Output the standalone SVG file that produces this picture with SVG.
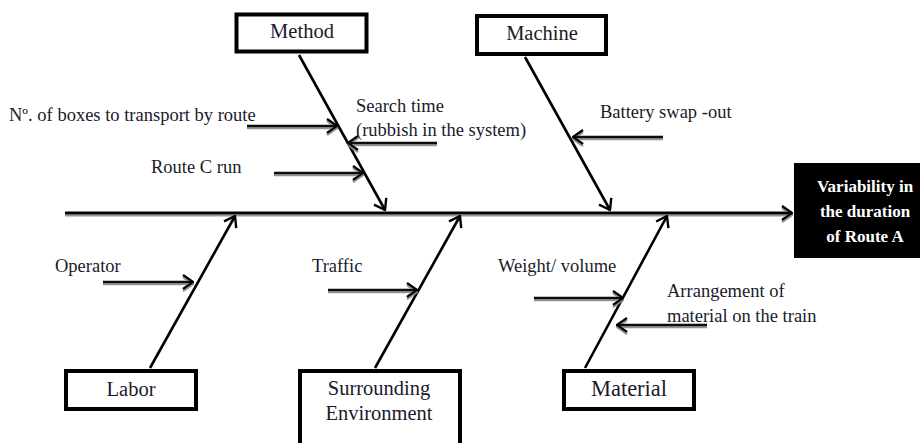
<svg xmlns="http://www.w3.org/2000/svg" width="921" height="443" viewBox="0 0 921 443">
<style>
.bg{fill:#fff}
.box{fill:#fff;stroke:#000;stroke-width:4}
.lbl{font-family:"Liberation Serif","Times New Roman",serif;font-size:20.5px;fill:#1a1a2a;text-anchor:middle}
.cause{font-family:"Liberation Serif","Times New Roman",serif;font-size:18.5px;fill:#1a1a2a}
.eff{font-family:"Liberation Serif","Times New Roman",serif;font-size:17px;font-weight:bold;fill:#fff;text-anchor:middle}
.bone{stroke:#000;stroke-width:2.6;fill:none;marker-end:url(#ah)}
.sub{stroke:#111;stroke-width:2.6;fill:none;marker-end:url(#ah);filter:url(#sh)}
.spine{stroke:#000;stroke-width:3;fill:none;marker-end:url(#ah);filter:url(#sh)}
</style>
<defs>
<marker id="ah" viewBox="0 0 12 16" refX="11" refY="8" markerWidth="12" markerHeight="16" orient="auto" markerUnits="userSpaceOnUse">
<path d="M1,1 L11,8 L1,15" fill="none" stroke="#000" stroke-width="2.4"/>
</marker>
<filter id="sh" filterUnits="userSpaceOnUse" x="0" y="0" width="921" height="443">
<feDropShadow dx="0" dy="2" stdDeviation="0.6" flood-color="#888" flood-opacity="0.9"/>
</filter>
</defs>
<rect class="bg" x="0" y="0" width="921" height="443"/>
<g id="connectors">
<line class="spine" x1="65" y1="213" x2="792" y2="213"/>
<line class="bone" x1="299" y1="55" x2="385" y2="210"/>
<line class="bone" x1="525" y1="57" x2="610" y2="210"/>
<line class="bone" x1="150" y1="368" x2="235" y2="216"/>
<line class="bone" x1="375" y1="368" x2="460" y2="216"/>
<line class="bone" x1="585" y1="368" x2="667" y2="216"/>
<line class="sub" x1="247" y1="126" x2="337" y2="126"/>
<line class="sub" x1="437" y1="143" x2="348" y2="143"/>
<line class="sub" x1="274" y1="173" x2="363" y2="173"/>
<line class="sub" x1="663" y1="137" x2="573" y2="137"/>
<line class="sub" x1="103" y1="282" x2="193" y2="282"/>
<line class="sub" x1="328" y1="290" x2="417" y2="290"/>
<line class="sub" x1="534" y1="298" x2="623" y2="298"/>
<line class="sub" x1="707" y1="325" x2="617" y2="325"/>
</g>
<g id="causes">
<text class="cause" x="9" y="121">Nº. of boxes to transport by route</text>
<text class="cause" x="356" y="112">Search time</text>
<text class="cause" x="356" y="136">(rubbish in the system)</text>
<text class="cause" x="151" y="173">Route C run</text>
<text class="cause" x="600" y="118">Battery swap -out</text>
<text class="cause" x="55" y="272">Operator</text>
<text class="cause" x="312" y="272">Traffic</text>
<text class="cause" x="498" y="272">Weight/ volume</text>
<text class="cause" x="667" y="297">Arrangement of</text>
<text class="cause" x="667" y="322">material on the train</text>
</g>
<g id="method">
<rect class="box" x="236.5" y="14.5" width="130" height="37"/>
<text class="lbl" x="302" y="38">Method</text>
</g>
<g id="machine">
<rect class="box" x="477" y="16" width="129" height="38"/>
<text class="lbl" x="542" y="40">Machine</text>
</g>
<g id="labor">
<rect class="box" x="66" y="371" width="130" height="38"/>
<text class="lbl" x="131" y="396">Labor</text>
</g>
<g id="environment">
<rect class="box" x="300" y="371" width="160" height="80"/>
<text class="lbl" x="379" y="395">Surrounding</text>
<text class="lbl" x="379" y="420">Environment</text>
</g>
<g id="material">
<rect class="box" x="564" y="371" width="130" height="38"/>
<text class="lbl" x="629" y="396" style="font-size:22.5px">Material</text>
</g>
<g id="effect">
<rect x="794" y="163" width="126" height="95" fill="#000"/>
<text class="eff" x="865" y="192">Variability in</text>
<text class="eff" x="865" y="217">the duration</text>
<text class="eff" x="865" y="242">of Route A</text>
</g>
</svg>
